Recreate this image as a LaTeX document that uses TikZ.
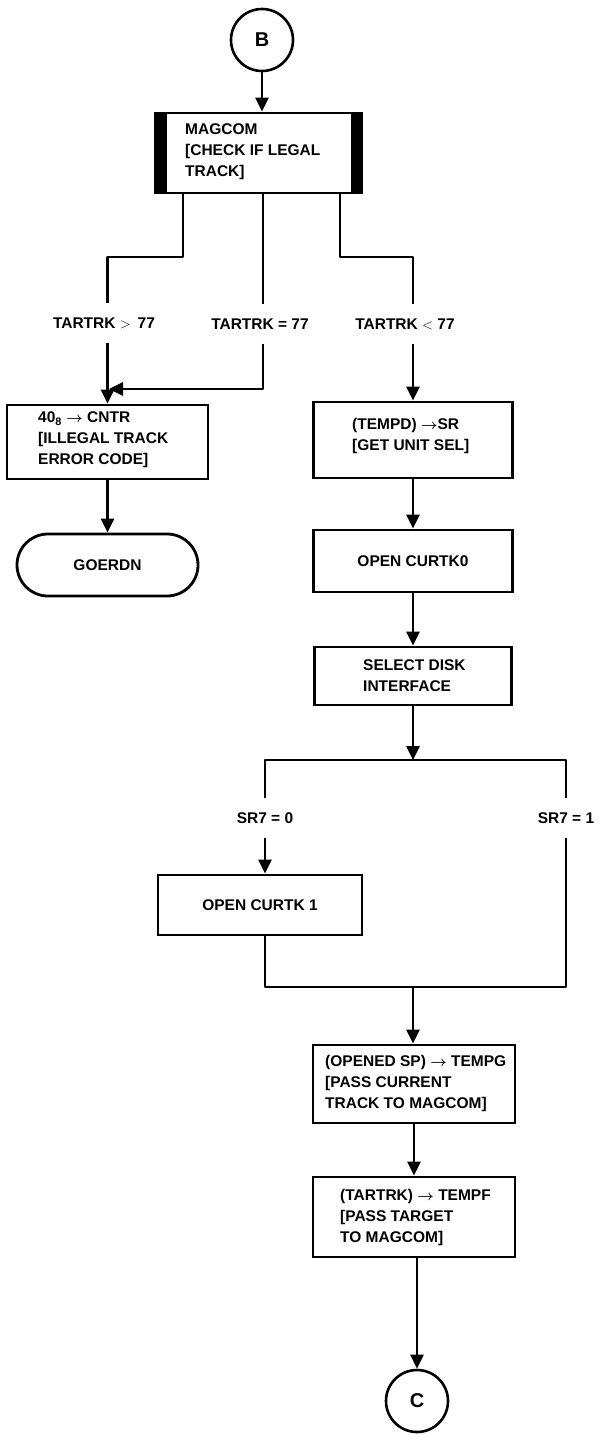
\documentclass[tikz,border=0pt]{standalone}
\usepackage{fontspec}
\setmainfont{Liberation Sans}
\newcommand{\ra}{\ensuremath{\boldsymbol{\rightarrow}}}
\usepackage{amsmath}
\usetikzlibrary{arrows.meta,shapes.misc}
\begin{document}
\begin{tikzpicture}[x=1pt,y=-1pt,
  every node/.style={font=\fontsize{15.5}{21}\selectfont\bfseries},
  conn/.style={line width=2.6pt, line join=round},
  arr/.style={conn, -{Triangle[length=14pt,width=13pt]}},
  box/.style={draw, rectangle, line width=2.8pt, inner sep=0pt},
  term/.style={draw, rounded rectangle, line width=2.8pt, inner sep=0pt},
  offpage/.style={draw, circle, line width=2.6pt, minimum size=62pt, inner sep=0pt, font=\fontsize{20}{20}\selectfont\bfseries},
  txt/.style={align=left, inner sep=0pt, anchor=west},
  lbl/.style={inner xsep=0pt, inner ysep=14pt}]
\useasboundingbox (0,0) rectangle (603,1435);

% nodes
\node[offpage] (B) at (262,40) {B};
\node[box, minimum width=207pt, minimum height=80pt] (magcom) at (258.5,153) {};
\fill (magcom.north west) rectangle ([xshift=13pt]magcom.south west);
\fill (magcom.north east) rectangle ([xshift=-12pt]magcom.south east);
\node[txt] (magcomt) at (185,152) {MAGCOM\\{[}CHECK IF LEGAL\\TRACK{]}};

\node[lbl] (gt) at (104,323) {TARTRK $>$\, 77};
\node[lbl] (eq) at (260,324) {TARTRK = 77};
\node[lbl] (lt) at (405,324) {TARTRK $<$ 77};

\node[box, minimum width=201pt, minimum height=74pt] (err) at (107.5,442) {};
\node[txt] (errt) at (38,440) {40\textsubscript{8} \ra{} CNTR\\{[}ILLEGAL TRACK\\ERROR CODE{]}};
\node[term, minimum width=181pt, minimum height=62pt] (goerdn) at (107.5,565) {GOERDN};

\node[box, minimum width=199pt, minimum height=76pt] (tempd) at (413,440) {};
\node[txt] (tempdt) at (352,435.5) {(TEMPD) \ra SR\\{[}GET UNIT SEL{]}};
\node[box, minimum width=199pt, minimum height=62pt] (ck0) at (413,561) {OPEN CURTK0};
\node[box, minimum width=197pt, minimum height=58pt] (sel) at (413,676) {};
\node[txt] (selt) at (363,675.5) {SELECT DISK\\INTERFACE};

\node[lbl] (s0) at (265,818) {SR7 = 0};
\node[lbl] (s1) at (566,818) {SR7 = 1};
\node[box, minimum width=204pt, minimum height=60pt] (ck1) at (260,905) {OPEN CURTK 1};

\node[box, minimum width=202pt, minimum height=78pt] (opened) at (414,1084) {};
\node[txt] (openedt) at (325,1083) {(OPENED SP) \ra{} TEMPG\\{[}PASS CURRENT\\TRACK TO MAGCOM{]}};
\node[box, minimum width=202pt, minimum height=80pt] (tartrk) at (414,1217) {};
\node[txt] (tartrkt) at (340,1217) {(TARTRK) \ra{} TEMPF\\{[}PASS TARGET\\TO MAGCOM{]}};
\node[offpage] (C) at (417,1401) {C};

\coordinate (bL) at (183,193);
\coordinate (bM) at (263,193);
\coordinate (bR) at (340,193);
\coordinate (jn) at (109,389);
\coordinate (split) at (413,760);
\coordinate (merge) at (413,987);

% connectors
\draw[arr] (B.south) -- (B.south |- magcom.north);
\draw[conn] (bL) -- ++(0,64) -| (gt.north -| err.north);
\draw[arr] (gt.south -| err.north) -- (err.north);
\draw[conn] (bM) -- (eq.north -| bM);
\draw[arr] (eq.south -| bM) |- (jn);
\draw[conn] (bR) -- ++(0,64) -| (lt.north -| tempd.north);
\draw[arr] (lt.south -| tempd.north) -- (tempd.north);
\draw[arr] (err) -- (goerdn);
\draw[arr] (tempd) -- (ck0);
\draw[arr] (ck0) -- (sel);
\draw[arr] (sel.south -| split) -- (split);
\draw[conn] (s0.north) |- (split) -| (s1.north);
\draw[arr] (s0.south) -- (s0.south |- ck1.north);
\draw[conn] (s0 |- ck1.south) |- (merge) -| (s1.south);
\draw[arr] (merge) -- (merge |- opened.north);
\draw[arr] (opened) -- (tartrk);
\draw[arr] (tartrk.south -| C) -- (C);
\end{tikzpicture}
\end{document}
